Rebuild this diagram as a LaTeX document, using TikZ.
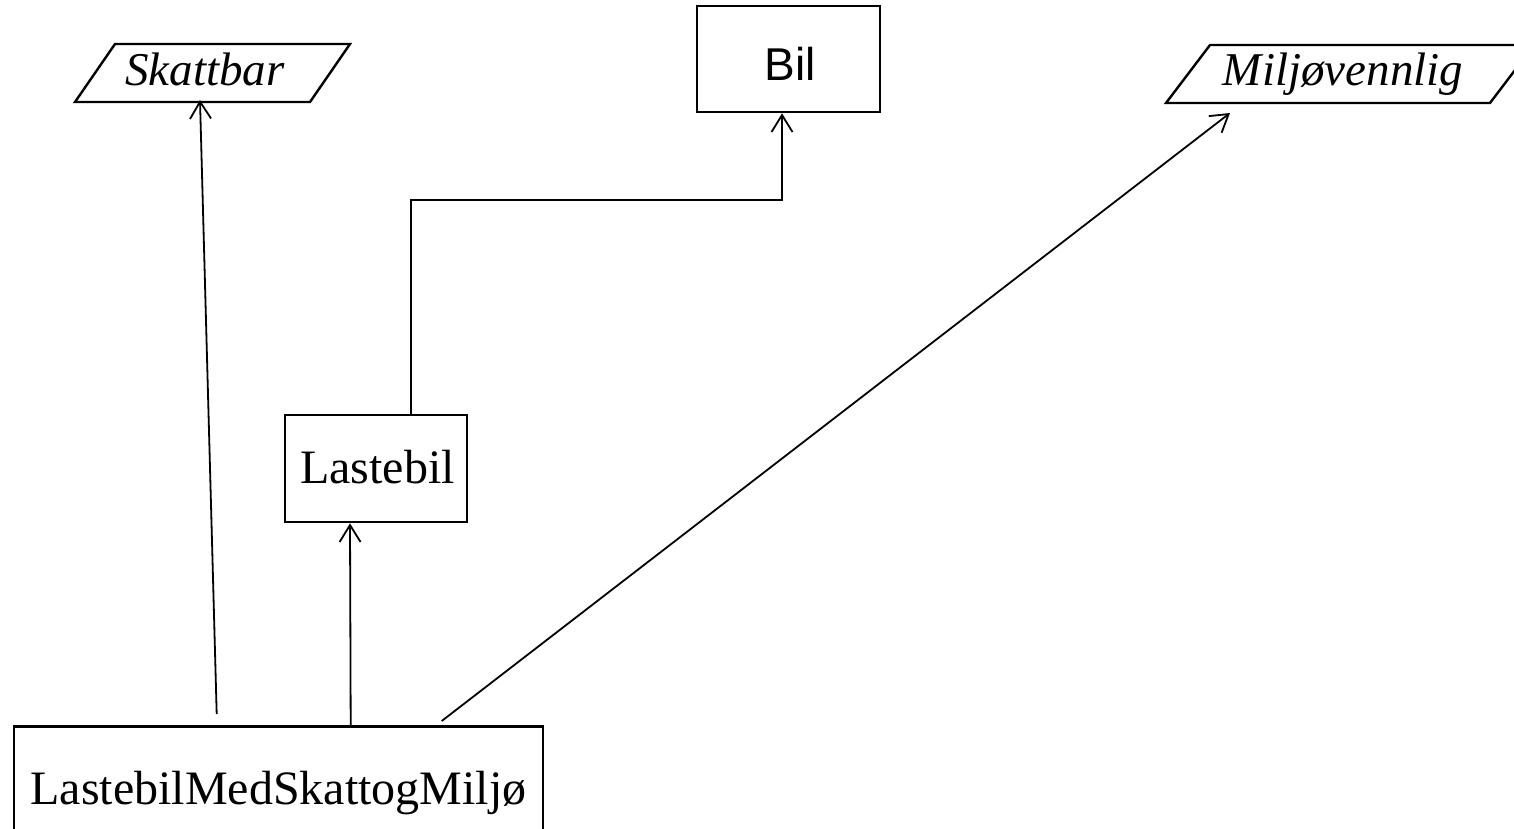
\documentclass[tikz,border=0pt]{standalone}
\usepackage{fontspec}
\setmainfont{Liberation Serif}
\newfontfamily\arialfont{Liberation Sans}
\usetikzlibrary{arrows.meta,calc}

\tikzset{
  boxnode/.style={draw, line width=2.6pt, inner sep=0pt},
  bigtext/.style={inner sep=0pt, anchor=base, font=\fontsize{48}{58}\selectfont},
  itext/.style={inner sep=0pt, anchor=base, font=\fontsize{47}{56}\selectfont\itshape},
  ifacebox/.style={draw, line width=2.4pt, line join=miter},
  gen/.style={line width=1.8pt, -{Straight Barb[length=17pt,width=21pt,line width=1.8pt]}},
  plain/.style={line width=1.8pt}
}

\begin{document}
\begin{tikzpicture}[x=1pt,y=-1pt]
  \useasboundingbox (0,0) rectangle (1514,828);
  \clip (0,0) rectangle (1514,828);

  % interfaces (parallelograms)
  \draw[ifacebox] (75,102) -- (310,102) -- (350,44) -- (115,44) -- cycle;
  \node[itext] (skattbar) at (205,85) {Skattbar};
  \draw[ifacebox] (1166,103) -- (1490,103) -- (1534,45) -- (1210,45) -- cycle;
  \node[itext] (miljo) at (1343,85) {Miljøvennlig};

  % classes
  \node[boxnode, minimum width=183pt, minimum height=106pt] (bil) at (788.5,59) {};
  \node[inner sep=0pt, anchor=base, font=\fontsize{46}{56}\selectfont\arialfont] (biltxt) at (790,80) {Bil};

  \node[boxnode, minimum width=182pt, minimum height=107pt] (lastebil) at (376,468.5) {};
  \node[bigtext] (lastebiltxt) at (377.5,483) {Lastebil};

  \node[boxnode, minimum width=529pt, minimum height=150pt, anchor=north] (lmsm) at (278.5,725) {};
  \node[bigtext] (lmsmtxt) at (278.5,804) {LastebilMedSkattogMiljø};

  % connector end points
  \coordinate (skattin) at (200,100);
  \coordinate (miljoin) at (1230,113);
  \coordinate (bilin) at ($(bil.south)+(-6.5,0)$);
  \coordinate (fromA) at ($(lmsm.north west)+(204,-11)$);
  \coordinate (fromB) at ($(lmsm.north west)+(338,0)$);
  \coordinate (fromC) at ($(lmsm.north west)+(429,-4)$);
  \coordinate (lastebilout) at ($(lastebil.north)+(35,0)$);
  \coordinate (lastebilin) at ($(lastebil.south)+(-26,0)$);

  % generalisations
  \draw[gen] (lastebilout) -- ++(0,-214) -| (bilin);
  \draw[gen] (fromA) -- (skattin);
  \draw[gen] (fromB) -- (lastebilin);
  \draw[gen] (fromC) -- (miljoin);
\end{tikzpicture}
\end{document}
